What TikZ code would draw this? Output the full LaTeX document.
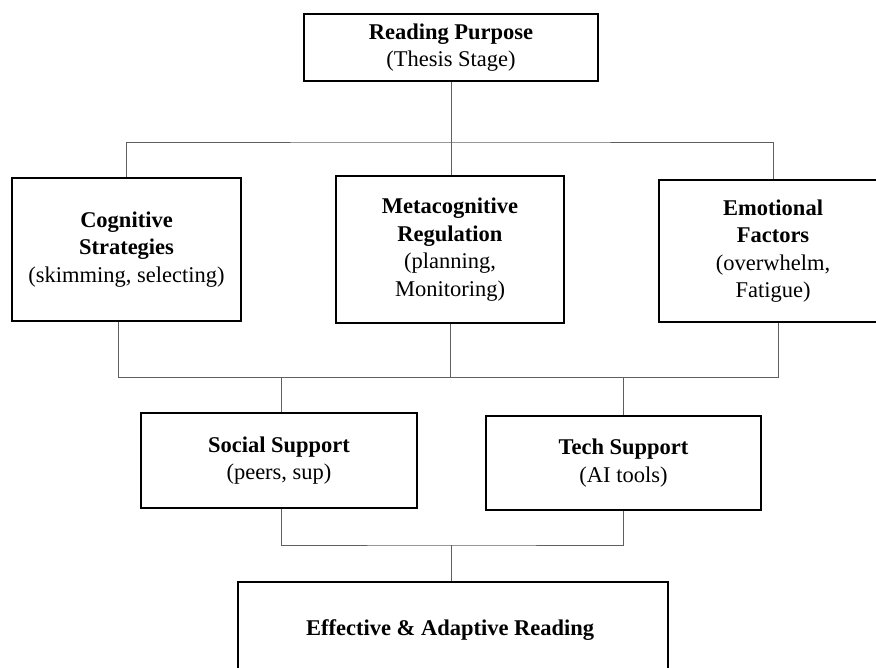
\documentclass[tikz,border=0pt]{standalone}
\usepackage{fontspec}
\setmainfont{Liberation Serif}
\usepackage{tikz}
\usetikzlibrary{positioning, calc}
\definecolor{linkgray}{RGB}{95,95,95}

\begin{document}
\begin{tikzpicture}[
  x=1pt, y=-1pt,
  box/.style={
    rectangle, draw=black, line width=1.2pt, fill=white, align=center,
    inner sep=0pt, font=\fontsize{22.5}{27.5}\selectfont
  },
  link/.style={draw=linkgray, line width=0.8pt}
]
\useasboundingbox (0,0) rectangle (876,668);
\clip (0,0) rectangle (876,668);

\node[box, minimum width=294pt, minimum height=67pt] (purpose) at (451,47.5) {
  \textbf{Reading Purpose}\\
  (Thesis Stage)
};

\node[box, minimum width=229pt, minimum height=143pt] (cog) at (126.5,249.5) {
  \textbf{Cognitive}\\
  \textbf{Strategies}\\
  (skimming, selecting)
};

\node[box, minimum width=228pt, minimum height=147pt] (meta) at (450,249.5) {
  \textbf{Metacognitive}\\
  \textbf{Regulation}\\
  (planning,\\
  Monitoring)
};

\node[box, minimum width=228pt, minimum height=142pt] (emo) at (773,251) {
  \textbf{Emotional}\\
  \textbf{Factors}\\
  (overwhelm,\\
  Fatigue)
};

\node[box, minimum width=276pt, minimum height=95pt] (social) at (279,460.5) {
  \textbf{Social Support}\\
  (peers, sup)
};

\node[box, minimum width=275pt, minimum height=94pt] (tech) at (623.5,463) {
  \textbf{Tech Support}\\
  (AI tools)
};

\node[box, minimum width=430pt, minimum height=96pt] (goal) at (453,630) {
  \textbf{Effective \& Adaptive Reading}
};

% junctions of the buses
\coordinate (busA) at (451,142);
\coordinate (busB) at (450,377);
\coordinate (busC) at (451,545);

% purpose to the three factors
\draw[link] (purpose.south) -- (busA);
\draw[link] (cog.north) |- (busA) -| (emo.north);
\draw[link] (busA) -- (busA |- meta.north);

% factors to the supports
\draw[link] ([xshift=-8.5pt]cog.south) |- (busB) -| ([xshift=5pt]emo.south);
\draw[link] (meta.south) -- (busB);
\draw[link] ([xshift=2pt]social.north) |- (busB);
\draw[link] (tech.north) |- (busB);

% supports to the outcome
\draw[link] ([xshift=2pt]social.south) |- (busC) -| (tech.south);
\draw[link] (busC) -- (busC |- goal.north);

\end{tikzpicture}
\end{document}
